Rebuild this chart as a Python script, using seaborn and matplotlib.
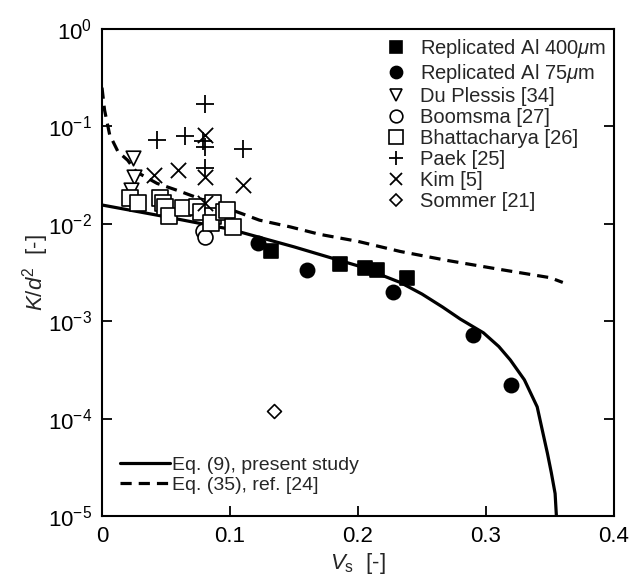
import numpy as np
import pandas as pd
import seaborn as sns
import matplotlib.pyplot as plt
from matplotlib.lines import Line2D

###########################################################################################
# data

# Eq. (9), present study
eq9_vs = [0.0, 0.05, 0.1, 0.15, 0.2, 0.233, 0.25, 0.266, 0.28, 0.298, 0.31, 0.319,
          0.33, 0.34, 0.344, 0.348, 0.351, 0.354, 0.355]
eq9_k = [0.0156, 0.0118, 0.0088, 0.0058, 0.0037, 0.0025, 0.0019, 0.0014, 0.00105,
         0.00076, 0.00055, 0.0004, 0.00025, 0.000132, 7.6e-5, 4.4e-5, 2.8e-5,
         1.7e-5, 1.0e-5]

# Eq. (35), ref. [24]
eq35_vs = [0.0, 0.002, 0.006, 0.0125, 0.02, 0.027, 0.043, 0.059, 0.077, 0.108, 0.123,
           0.147, 0.17, 0.2, 0.233, 0.27, 0.311, 0.35, 0.36]
eq35_k = [0.25, 0.147, 0.082, 0.055, 0.045, 0.034, 0.026, 0.022, 0.018, 0.0129, 0.0109,
          0.0093, 0.0078, 0.0066, 0.0052, 0.0042, 0.0034, 0.0028, 0.0025]

al400_vs = [0.132, 0.186, 0.2055, 0.215, 0.238]
al400_k = [0.00526, 0.00387, 0.00352, 0.00336, 0.00278]

al75_vs = [0.122, 0.160, 0.227, 0.290, 0.3195]
al75_k = [0.00635, 0.00336, 0.0020, 0.00072, 0.000221]

plessis_vs = [0.024, 0.025, 0.023]
plessis_k = [0.047, 0.030, 0.022]

boomsma_vs = [0.079, 0.0805]
boomsma_k = [0.0085, 0.0074]

bhatta_vs = [0.022, 0.028, 0.045, 0.048, 0.049, 0.052, 0.063, 0.074, 0.077, 0.087,
             0.087, 0.085, 0.095, 0.098, 0.102]
bhatta_k = [0.0184, 0.0164, 0.0184, 0.0164, 0.0149, 0.0120, 0.0145, 0.0149, 0.0132,
            0.0164, 0.0120, 0.0102, 0.0132, 0.0140, 0.0092]

paek_vs = [0.0805, 0.043, 0.065, 0.079, 0.0805, 0.0805, 0.110]
paek_k = [0.17, 0.0725, 0.0797, 0.0708, 0.0614, 0.0374, 0.0586]

kim_vs = [0.0805, 0.041, 0.059, 0.0805, 0.110, 0.0805]
kim_k = [0.0816, 0.0317, 0.0357, 0.0302, 0.0251, 0.0163]

sommer_vs = [0.134]
sommer_k = [0.00012]

###########################################################################################
# style

sns.set_style("ticks")
plt.rcParams['font.family'] = ['Liberation Sans', 'DejaVu Sans']
plt.rcParams['mathtext.fontset'] = 'custom'
plt.rcParams['mathtext.rm'] = 'Liberation Sans'
plt.rcParams['mathtext.it'] = 'Liberation Sans:italic'
plt.rcParams['mathtext.sf'] = 'Liberation Sans'

fig = plt.figure(figsize=(6.32, 5.79), dpi=100)
ax = fig.add_axes([0.1614, 0.1088, 0.8101, 0.8411])

# model curves
sns.lineplot(x=eq9_vs, y=eq9_k, estimator=None, sort=False, color='black', lw=2.3,
             ax=ax, zorder=2)
sns.lineplot(x=eq35_vs, y=eq35_k, estimator=None, sort=False, color='black', lw=2.3,
             dashes=False, ax=ax, zorder=2)
ax.lines[-1].set_dashes([3.5, 2.2])

# experimental series: (x, y, label, marker, size, filled)
series = [
    (al400_vs, al400_k, 'Replicated Al 400$\\mu$m', 's', 95, True),
    (al75_vs, al75_k, 'Replicated Al 75$\\mu$m', 'o', 105, True),
    (plessis_vs, plessis_k, 'Du Plessis [34]', 'v', 110, False),
    (boomsma_vs, boomsma_k, 'Boomsma [27]', 'o', 115, False),
    (bhatta_vs, bhatta_k, 'Bhattacharya [26]', 's', 135, False),
    (paek_vs, paek_k, 'Paek [25]', '+', 150, True),
    (kim_vs, kim_k, 'Kim [5]', 'x', 120, True),
    (sommer_vs, sommer_k, 'Sommer [21]', 'D', 50, False),
]

marker_handles = []
for xs, ys, label, mk, size, filled in series:
    face = 'black' if filled else 'white'
    lw = 1.3 if mk in ('+', 'x') else 1.2
    if mk in ('+', 'x'):
        sns.scatterplot(x=xs, y=ys, marker=mk, s=size, color='black', linewidth=lw,
                        ax=ax, zorder=3)
    else:
        sns.scatterplot(x=xs, y=ys, marker=mk, s=size, facecolor=face,
                        edgecolor='black', linewidth=lw, ax=ax, zorder=3)
    marker_handles.append(Line2D([], [], ls='none', marker=mk,
                                 markersize=np.sqrt(size) * 0.85,
                                 markerfacecolor=face, markeredgecolor='black',
                                 markeredgewidth=lw, label=label))

ax.set_yscale('log')
ax.set_xlim(0, 0.4)
ax.set_ylim(1e-5, 1)
ax.set_xticks([0, 0.1, 0.2, 0.3, 0.4])
ax.set_xticklabels(['0', '0.1', '0.2', '0.3', '0.4'])
ax.set_yticks([1e-5, 1e-4, 1e-3, 1e-2, 1e-1, 1])
ax.minorticks_off()
ax.tick_params(direction='in', length=7, width=1.3, labelsize=16, right=True,
               top=False, pad=7, colors='black')
for sp in ax.spines.values():
    sp.set_visible(True)
    sp.set_linewidth(1.5)
    sp.set_color('black')

ax.set_xlabel('$V_\\mathrm{s}$  [-]', fontsize=16, labelpad=3)
ax.set_ylabel('$K/d^2$  [-]', fontsize=16)
ax.yaxis.set_label_coords(-0.10, 0.5)

leg1 = ax.legend(handles=marker_handles, loc='upper right', frameon=False, fontsize=14.5,
                 handlelength=1.0, handletextpad=0.7, labelspacing=0.1,
                 borderaxespad=0.0, bbox_to_anchor=(1.0, 1.0))
ax.add_artist(leg1)

line_handles = [Line2D([], [], color='black', lw=2.3, label='Eq. (9), present study'),
                Line2D([], [], color='black', lw=2.3, ls=(0, (3.5, 2.2)),
                       label='Eq. (35), ref. [24]')]
ax.legend(handles=line_handles, loc='lower left', frameon=False, fontsize=14,
          handlelength=2.6, handletextpad=0.1, labelspacing=0.1,
          bbox_to_anchor=(0.0, 0.01))

fig.savefig('out.png', dpi=100)
